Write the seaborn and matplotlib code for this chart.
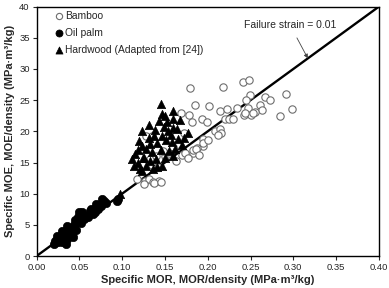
import numpy as np
import pandas as pd
import matplotlib
matplotlib.use("Agg")
import matplotlib.pyplot as plt
import seaborn as sns

# ---- data ----
bamboo_mor = [0.179, 0.218, 0.241, 0.248, 0.249, 0.245, 0.267, 0.273, 0.291, 0.298, 0.285,
              0.185, 0.169, 0.178, 0.182, 0.172, 0.135, 0.201, 0.214, 0.223, 0.234, 0.247,
              0.261, 0.264, 0.242, 0.251, 0.255, 0.193, 0.199, 0.220, 0.225, 0.208, 0.214,
              0.216, 0.212, 0.194, 0.195, 0.183, 0.244, 0.253, 0.230,
              0.117, 0.127, 0.131, 0.136, 0.143, 0.126, 0.137, 0.145, 0.133, 0.135, 0.142,
              0.150, 0.156, 0.170, 0.174, 0.183, 0.188, 0.195, 0.200, 0.177, 0.165, 0.160,
              0.128, 0.140, 0.155, 0.163, 0.148, 0.186, 0.190]
bamboo_moe = [27.0, 27.1, 27.9, 28.2, 25.8, 25.0, 25.5, 25.0, 26.0, 23.6, 22.5,
              24.2, 23.0, 22.6, 21.5, 19.8, 19.3, 24.1, 23.3, 23.6, 23.8, 23.8,
              24.2, 23.4, 22.6, 22.6, 23.1, 22.0, 21.5, 22.0, 22.0, 20.1, 20.4,
              19.8, 19.4, 18.7, 17.7, 16.5, 22.9, 23.0, 22.0,
              12.4, 12.0, 12.3, 11.8, 12.0, 11.6, 11.7, 11.8, 15.5, 14.6, 14.2,
              16.0, 16.2, 16.2, 16.6, 17.0, 17.4, 18.1, 18.6, 15.8, 18.0, 17.5,
              19.3, 16.0, 16.5, 15.3, 16.8, 17.2, 16.2]

palm_mor = [0.020, 0.022, 0.025, 0.027, 0.028, 0.030, 0.031, 0.032, 0.033, 0.034, 0.035,
            0.035, 0.036, 0.038, 0.040, 0.042, 0.043, 0.044, 0.045, 0.046, 0.048, 0.050,
            0.052, 0.053, 0.055, 0.058, 0.060, 0.062, 0.064, 0.066, 0.068, 0.070, 0.072,
            0.075, 0.077, 0.079, 0.081, 0.094, 0.095, 0.024, 0.030]
palm_moe = [2.0, 2.4, 2.2, 2.8, 3.3, 2.2, 3.0, 2.5, 3.8, 2.0, 3.5,
            4.8, 2.7, 4.3, 3.2, 3.0, 4.0, 5.0, 5.8, 4.2, 6.3, 7.0,
            5.3, 7.1, 6.0, 6.5, 6.2, 7.3, 7.6, 6.8, 7.0, 8.4, 7.5,
            8.0, 9.2, 8.8, 8.5, 8.9, 9.2, 3.2, 4.0]

hard_mor = [0.145, 0.147, 0.150, 0.159, 0.131, 0.123, 0.149, 0.154, 0.164, 0.160, 0.137,
            0.146, 0.131, 0.123, 0.141, 0.151, 0.158, 0.165, 0.172, 0.177, 0.170, 0.128,
            0.118, 0.135, 0.145, 0.155, 0.162, 0.112, 0.118, 0.125, 0.132, 0.140, 0.150,
            0.160, 0.114, 0.121, 0.128, 0.136, 0.146, 0.123, 0.115, 0.138, 0.152, 0.168,
            0.143, 0.157, 0.133, 0.120, 0.160, 0.098, 0.124, 0.141]
hard_moe = [24.4, 22.8, 22.5, 23.3, 21.0, 20.1, 20.7, 20.1, 20.4, 20.6, 19.3,
            19.3, 18.9, 17.7, 18.1, 18.6, 18.3, 18.8, 19.0, 19.8, 17.8, 17.2,
            17.0, 16.7, 17.0, 16.8, 17.2, 15.6, 15.0, 15.8, 15.2, 15.5, 15.8,
            16.0, 14.5, 14.0, 14.4, 14.0, 14.5, 13.6, 16.3, 20.2, 21.5, 21.8,
            21.6, 19.4, 18.0, 18.5, 22.0, 9.9, 15.8, 14.2]

strain = 0.01
line_mor = [0.0, 0.40]
line_moe = [v / strain for v in line_mor]

xticks = [0.00, 0.05, 0.10, 0.15, 0.20, 0.25, 0.30, 0.35, 0.40]
yticks = [0, 5, 10, 15, 20, 25, 30, 35, 40]

df = pd.concat([
    pd.DataFrame({"mor": bamboo_mor, "moe": bamboo_moe, "grp": "Bamboo"}),
    pd.DataFrame({"mor": palm_mor, "moe": palm_moe, "grp": "Oil palm"}),
    pd.DataFrame({"mor": hard_mor, "moe": hard_moe, "grp": "Hardwood (Adapted from [24])"}),
])

sns.set_style("ticks")
plt.rcParams['font.family'] = ['Liberation Sans', 'DejaVu Sans']

fig = plt.figure(figsize=(3.89, 2.88), dpi=100)
ax = fig.add_axes([0.094, 0.111, 0.880, 0.866])

sns.lineplot(x=line_mor, y=line_moe, ax=ax, color="black", linewidth=1.7, zorder=1)

sub = df[df.grp == "Bamboo"]
sns.scatterplot(data=sub, x="mor", y="moe", ax=ax, marker="o", s=28,
                facecolor="white", edgecolor="#6e6e6e", linewidth=0.8,
                label="Bamboo", zorder=2)
sub = df[df.grp == "Oil palm"]
sns.scatterplot(data=sub, x="mor", y="moe", ax=ax, marker="o", s=36,
                color="black", edgecolor="black", linewidth=0.5,
                label="Oil palm", zorder=3)
sub = df[df.grp == "Hardwood (Adapted from [24])"]
sns.scatterplot(data=sub, x="mor", y="moe", ax=ax, marker="^", s=36,
                color="black", edgecolor="black", linewidth=0.5,
                label="Hardwood (Adapted from [24])", zorder=3)

ax.annotate("Failure strain = 0.01", xy=(0.317, 31.7), xytext=(0.296, 37.1),
            ha="center", va="center", fontsize=7.5,
            arrowprops=dict(arrowstyle="-|>", color="#444444", lw=0.6,
                            mutation_scale=6, shrinkA=4, shrinkB=0))

ax.set_xlim(0, 0.40)
ax.set_ylim(0, 40)
ax.set_xticks(xticks)
ax.set_xticklabels([f"{t:.2f}" for t in xticks])
ax.set_yticks(yticks)
ax.set_yticklabels([str(t) for t in yticks])
ax.tick_params(labelsize=6.8, length=3, width=0.8, pad=2)
for sp in ax.spines.values():
    sp.set_visible(True)
    sp.set_color("black")
    sp.set_linewidth(1.0)

ax.set_xlabel("Specific MOR, MOR/density (MPa·m³/kg)", fontsize=8, fontweight="bold", labelpad=2)
ax.set_ylabel("Specific MOE, MOE/density (MPa·m³/kg)", fontsize=8, fontweight="bold", labelpad=3)

ax.legend(loc="upper left", bbox_to_anchor=(0.035, 1.0), frameon=False, fontsize=7.4,
          handletextpad=0.0, borderaxespad=0.2, labelspacing=0.7, handlelength=1.2,
          borderpad=0.2, markerscale=0.85)

fig.savefig("out.png", dpi=100)
